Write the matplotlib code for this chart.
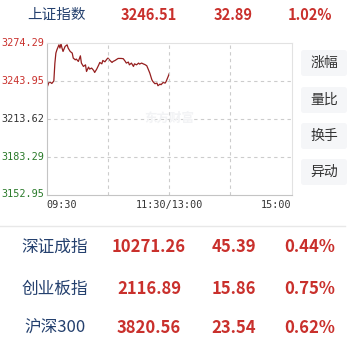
#!/usr/bin/env python3

import matplotlib
matplotlib.use('Agg')
import matplotlib.pyplot as plt
from matplotlib.patches import FancyBboxPatch

plt.rcParams['font.family'] = ['Noto Sans CJK SC', 'DejaVu Sans']

# intraday trace of the Shanghai index, morning session (minutes after 09:30)
minutes = [0, 2, 3, 5, 7, 8, 9, 10, 12, 13, 14, 15, 16, 18, 20, 21, 23, 25, 26, 28,
           29, 31, 33, 34, 36, 38, 39, 41, 42, 44, 46, 47, 49, 51, 52, 54, 55, 57, 59,
           60, 62, 64, 65, 67, 69, 70, 72, 73, 75, 77, 78, 80, 81, 83, 85, 86, 88, 90,
           91, 93, 95, 96, 98, 99, 101, 103, 104, 106, 108, 109, 111, 112, 114, 116,
           117, 119, 120]
prices = [3237.7, 3242.2, 3243.0, 3241.7, 3243.7, 3257.8, 3266.0, 3268.6, 3272.6, 3270.0,
          3273.5, 3270.0, 3267.3, 3271.3, 3272.6, 3270.0, 3267.3, 3266.0, 3262.0, 3260.6,
          3261.2, 3259.3, 3263.8, 3258.0, 3255.3, 3256.6, 3251.3, 3254.8, 3253.2, 3254.0,
          3252.1, 3250.5, 3253.2, 3256.6, 3258.5, 3257.4, 3260.1, 3259.0, 3261.2, 3262.0,
          3260.1, 3258.5, 3259.3, 3260.1, 3261.2, 3261.7, 3261.7, 3261.7, 3261.5, 3259.3,
          3258.0, 3258.8, 3256.6, 3258.0, 3255.3, 3257.4, 3256.6, 3258.0, 3257.2, 3258.0,
          3257.2, 3256.9, 3255.9, 3254.0, 3250.0, 3244.7, 3243.3, 3241.5, 3242.0, 3239.9,
          3241.2, 3240.7, 3242.5, 3242.0, 3243.3, 3247.3, 3249.5]

y_ticks = [3152.95, 3183.29, 3213.62, 3243.95, 3274.29]
x_ticks = [0, 120, 240]
x_labels = ['09:30', '11:30/13:00', '15:00']
buttons = ['涨幅', '量比', '换手', '异动']

# summary rows: name, last, change, pct
main_row = ['上证指数', '3246.51', '32.89', '1.02%']
rows = [['深证成指', '10271.26', '45.39', '0.44%'],
        ['创业板指', '2116.89', '15.86', '0.75%'],
        ['沪深300', '3820.56', '23.54', '0.62%']]

RED = '#c9302c'
NAVY = '#24406e'
GREEN = '#2a7a2a'
GRID = '#cccccc'

fig = plt.figure(figsize=(3.51, 3.43), dpi=100)
W, H = 351., 343.


def fx(px):
    return px / W


def fy(py):
    return 1 - py / H


# header row
fig.text(fx(56), fy(15), main_row[0], ha='center', va='center', fontsize=10.5, color=NAVY)
for txt, cx in zip(main_row[1:], [149, 233, 310]):
    fig.text(fx(cx), fy(15), txt, ha='center', va='center', fontsize=10.5,
             color=RED, fontweight='bold')

# chart
ax = fig.add_axes([fx(46.7), fy(194.5), fx(245), (194.5 - 42.7) / H])
ax.plot(minutes, prices, color='#951e1e', lw=0.9)
ax.set_xlim(0, 240)
ax.set_ylim(y_ticks[0], y_ticks[-1])
for v in y_ticks[1:-1]:
    ax.axhline(v, color=GRID, lw=0.8, ls=(0, (3, 3)))
for m in [60, 120, 180]:
    ax.axvline(m, color=GRID, lw=0.8, ls=(0, (3, 3)))
for side in ['top', 'right']:
    ax.spines[side].set_color('#e2e2e2')
for side in ['left', 'bottom']:
    ax.spines[side].set_color('#c4c4c4')
ax.set_xticks([])
ax.set_yticks([])

tick_colors = [GREEN, GREEN, '#333333', RED, RED]
for v, c in zip(y_ticks, tick_colors):
    ax.text(-2, v, '%.2f' % v, transform=ax.transData, ha='right', va='center',
            fontsize=7.3, color=c, family='DejaVu Sans Mono', clip_on=False)
for m, lab, ha in zip(x_ticks, x_labels, ['left', 'center', 'right']):
    ax.text(m, y_ticks[0] - 8.5, lab, ha=ha, va='center', fontsize=7.3,
            color='#333333', family='DejaVu Sans Mono', clip_on=False)

# faint watermark
ax.text(0.5, 0.5, '东方财富', transform=ax.transAxes, ha='center', va='center',
        fontsize=9, color='#f2f3f5', fontweight='bold')

# side buttons
for lab, cy in zip(buttons, [63, 100, 136, 172]):
    box = FancyBboxPatch((fx(301), fy(cy + 13)), fx(46), 26 / H,
                         boxstyle='round,pad=0,rounding_size=0.008',
                         transform=fig.transFigure, fc='#f5f6f8', ec='none')
    fig.patches.append(box)
    fig.text(fx(324), fy(cy), lab, ha='center', va='center', fontsize=10, color='#333333')

# separator
fig.add_artist(plt.Line2D([0, fx(345)], [fy(226), fy(226)], color='#e8e8e8', lw=1))

# summary rows
for row, cy in zip(rows, [247, 289, 328]):
    fig.text(fx(55), fy(cy), row[0], ha='center', va='center', fontsize=12, color=NAVY)
    for txt, cx in zip(row[1:], [149, 234, 310]):
        fig.text(fx(cx), fy(cy), txt, ha='center', va='center', fontsize=12,
                 color=RED, fontweight='bold')

fig.savefig('out.png', dpi=100)
